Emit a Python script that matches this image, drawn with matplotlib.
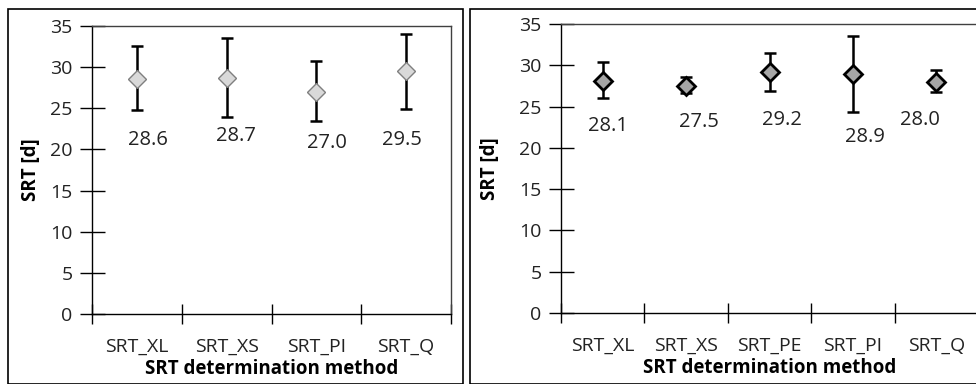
import numpy as np
import matplotlib.pyplot as plt
from matplotlib.patches import Rectangle

plt.rcParams['font.family'] = ['Open Sans', 'DejaVu Sans']

# left panel
cats_l = ['SRT_XL', 'SRT_XS', 'SRT_PI', 'SRT_Q']
mean_l = [28.6, 28.7, 27.0, 29.5]
lo_l = [24.8, 24.0, 23.4, 24.9]
hi_l = [32.6, 33.5, 30.7, 34.0]

# right panel
cats_r = ['SRT_XL', 'SRT_XS', 'SRT_PE', 'SRT_PI', 'SRT_Q']
mean_r = [28.1, 27.5, 29.2, 28.9, 28.0]
lo_r = [26.0, 26.6, 26.9, 24.3, 26.8]
hi_r = [30.4, 28.6, 31.5, 33.6, 29.4]

# label placement (x offset, y position) for the value labels
lab_l = [(0.12, 21.2), (0.1, 21.6), (0.12, 20.8), (-0.05, 21.2)]
lab_r = [(0.06, 22.6), (0.15, 23.1), (0.15, 23.4), (0.15, 21.3), (-0.2, 23.4)]

W, H = 976, 384
fig = plt.figure(figsize=(W / 100, H / 100), dpi=100)

# panel frames
fig.patches.append(Rectangle((8 / W, 0), 455 / W, 1 - 9 / H, transform=fig.transFigure,
                             fill=False, ec='black', lw=1.2))
fig.patches.append(Rectangle((470 / W, 0), 520 / W, 1 - 9 / H, transform=fig.transFigure,
                             fill=False, ec='black', lw=1.2))


def panel(rect, cats, mean, lo, hi, labs, face, edge, ew, ms, ylx):
    ax = fig.add_axes(rect)
    n = len(cats)
    x = np.arange(n)
    yerr = [np.array(mean) - np.array(lo), np.array(hi) - np.array(mean)]
    ax.errorbar(x, mean, yerr=yerr, fmt='none', ecolor='black', elinewidth=1.8,
                capsize=4.2, capthick=1.8, zorder=2)
    ax.plot(x, mean, 'D', ms=ms, mfc=face, mec=edge, mew=ew, zorder=3)
    for i, (dx, yl) in enumerate(labs):
        ax.text(x[i] + dx, yl, f'{mean[i]:.1f}', ha='center', va='center',
                fontsize=14.5, color='#222222')
    ax.set_xlim(-0.5, n - 0.5)
    ax.set_ylim(0, 35)
    ax.set_yticks(range(0, 36, 5))
    ax.set_xticks(x)
    ax.set_xticklabels(cats, fontsize=14, color='#222222')
    ax.set_xticks(np.arange(-0.5, n, 1.0), minor=True)
    ax.tick_params(axis='x', which='major', length=0, pad=17)
    ax.tick_params(axis='x', which='minor', direction='inout', length=14, width=1)
    ax.tick_params(axis='y', direction='inout', length=18, width=1, labelsize=14,
                   pad=5, labelcolor='#222222')
    for s in ['left', 'bottom']:
        ax.spines[s].set_color('black')
        ax.spines[s].set_linewidth(1)
    for s in ['top', 'right']:
        ax.spines[s].set_color('#404040')
        ax.spines[s].set_linewidth(1)
    ax.set_ylabel('SRT [d]', fontweight='bold', fontsize=13.5)
    ax.yaxis.set_label_coords(ylx, 0.5)
    ax.set_xlabel('SRT determination method', fontweight='bold', fontsize=13.5)
    ax.xaxis.set_label_coords(0.5, -0.155)
    return ax


panel([92 / W, 1 - 314 / H, 359 / W, 288 / H], cats_l, mean_l, lo_l, hi_l, lab_l,
      '#d9d9d9', '#7f7f7f', 1.0, 9.5, -0.142)
panel([561 / W, 1 - 313 / H, 417 / W, 289 / H], cats_r, mean_r, lo_r, hi_r, lab_r,
      '#a6a6a6', 'black', 2.0, 9, -0.146)

fig.savefig('out.png', dpi=100)
